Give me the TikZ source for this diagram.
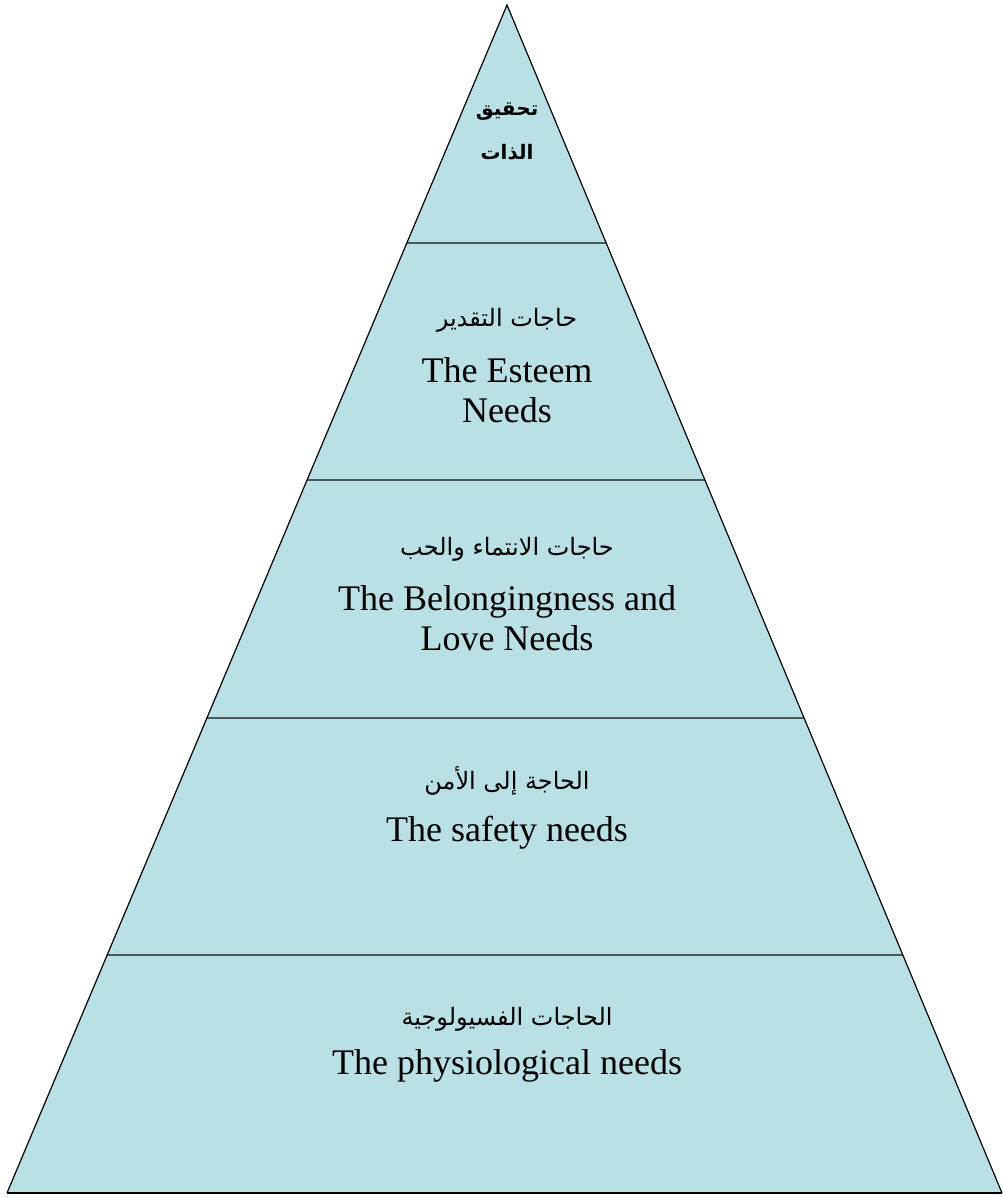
\documentclass[tikz,border=0pt]{standalone}
\usepackage{fontspec}
\setmainfont{Liberation Serif}
\newfontfamily\arabicfont[Script=Arabic]{DejaVu Sans}
\TeXXeTstate=1
\usetikzlibrary{calc}
\definecolor{pyrfill}{RGB}{185,224,228}
\definecolor{tierline}{RGB}{74,88,88}
\begin{document}
\begin{tikzpicture}[x=1pt,y=-1pt,
  entext/.style={align=center,font=\fontsize{36}{40}\selectfont,inner sep=0pt},
  artext/.style={font=\arabicfont\fontsize{24}{28}\selectfont,inner sep=0pt},
  arbold/.style={font=\arabicfont\bfseries\fontsize{20}{44}\selectfont,align=center,inner sep=0pt},
  tier/.style={draw=tierline,line width=2pt}]
\useasboundingbox (0,0) rectangle (1003,1197);
\coordinate (apex) at (507,5);
\coordinate (bl) at (7,1193);
\coordinate (br) at (1002,1193);
\fill[pyrfill] (apex) -- (bl) -- (br) -- cycle;
\foreach \f/\n in {0.2/1,0.4/2,0.6/3,0.8/4}{
  \coordinate (L\n) at ($(apex)!\f!(bl)$);
  \coordinate (R\n) at ($(apex)!\f!(br)$);
  \draw[tier] (L\n) -- (R\n);
}
\draw[line width=1.2pt,line join=miter] (bl) -- (apex) -- (br);
\draw[line width=2pt] (bl) -- (br);
% labels
\node[arbold] (t1) at (507,131) {\beginR تحقيق\endR\\\beginR الذات\endR};
\node[artext] (a2) at (507,320) {\beginR حاجات التقدير\endR};
\node[entext] (e2) at (507,390) {The Esteem\\Needs};
\node[artext] (a3) at (507,549) {\beginR حاجات الانتماء والحب\endR};
\node[entext] (e3) at (507,618) {The Belongingness and\\Love Needs};
\node[artext] (a4) at (507,781) {\beginR الحاجة إلى الأمن\endR};
\node[entext] (e4) at (507,833) {The safety needs};
\node[artext] (a5) at (507,1019) {\beginR الحاجات الفسيولوجية\endR};
\node[entext] (e5) at (507,1066) {The physiological needs};
\end{tikzpicture}
\end{document}
